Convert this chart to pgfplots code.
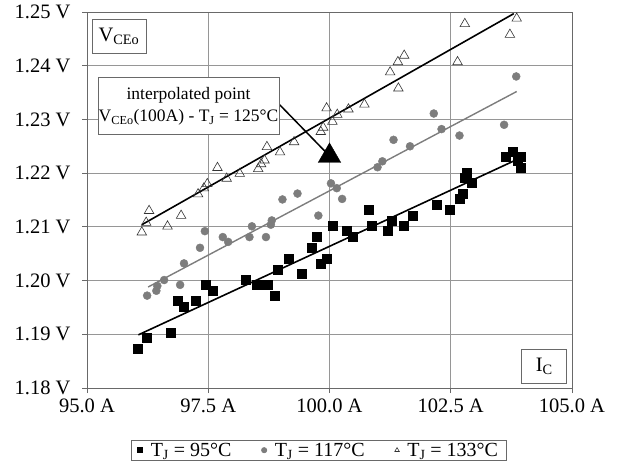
\documentclass[border=0pt]{standalone}
\usepackage{fontspec}
\setmainfont{Liberation Serif}
\usepackage{pgfplots}
\pgfplotsset{compat=1.18}

\definecolor{gridgray}{RGB}{150,150,150}
\definecolor{ptgray}{RGB}{125,125,125}
\definecolor{axisgray}{RGB}{105,105,105}
\newcommand{\lab}{\fontsize{20.5}{24}\selectfont}

\begin{document}
\begin{tikzpicture}
\begin{axis}[
  scale only axis,
  width=485pt, height=376pt,
  xmin=95, xmax=105, ymin=1.18, ymax=1.25,
  xtick={95,97.5,100,102.5,105},
  xticklabels={95.0 A,97.5 A,100.0 A,102.5 A,105.0 A},
  ytick={1.18,1.19,1.20,1.21,1.22,1.23,1.24,1.25},
  yticklabels={1.18 V,1.19 V,1.20 V,1.21 V,1.22 V,1.23 V,1.24 V,1.25 V},
  tick label style={font=\lab},
  yticklabel style={xshift=-8pt},
  xticklabel style={yshift=-2pt},
  tick align=outside, xtick pos=bottom, ytick pos=left,
  major tick length=5pt,
  tick style={axisgray, line width=0.8pt},
  grid=major, grid style={gridgray, line width=0.8pt},
  axis line style={axisgray, line width=0.9pt},
  clip=false,
  legend columns=3,
  legend style={at={(0.478,-0.138)}, anchor=north, draw=axisgray,
    line width=0.8pt, font=\fontsize{20}{20}\selectfont, inner ysep=0.5pt, inner xsep=6pt,
    /tikz/every odd column/.append style={column sep=6pt},
    /tikz/every even column/.append style={column sep=28pt}},
  legend image post style={mark size=2.6pt},
]
% T_J = 95 C
\addplot[only marks, mark=square*, mark size=4.5pt, black] coordinates {
  (96.04,1.1874)(96.24,1.1893)(96.73,1.1903)(96.86,1.1962)(97.00,1.1952)
  (97.25,1.1962)(97.45,1.1992)(97.60,1.1982)(98.27,1.2001)(98.50,1.1992)
  (98.60,1.1992)(98.73,1.1992)(98.88,1.1972)(98.94,1.2021)(99.15,1.2041)
  (99.43,1.2012)(99.63,1.2061)(99.74,1.2081)(99.82,1.2031)(99.94,1.2041)
  (100.07,1.2103)(100.35,1.2092)(100.48,1.2082)(100.81,1.2132)(100.88,1.2103)
  (101.21,1.2092)(101.28,1.2112)(101.54,1.2103)(101.71,1.2121)(102.22,1.2142)
  (102.47,1.2132)(102.68,1.2152)(102.75,1.2162)(102.78,1.2191)(102.82,1.2201)
  (102.93,1.2182)(103.64,1.2231)(103.78,1.2239)(103.87,1.2224)(103.94,1.2231)
  (103.94,1.2211)
};
\addlegendentry{T\textsubscript{J} = 95°C}
% T_J = 117 C
\addplot[only marks, mark=*, mark size=4pt, ptgray, mark options={draw=ptgray, fill=ptgray}] coordinates {
  (96.24,1.1972)(96.43,1.1981)(96.45,1.1990)(96.59,1.2001)(96.92,1.1992)
  (97.00,1.2032)(97.33,1.2061)(97.43,1.2092)(97.80,1.2081)(97.91,1.2072)
  (98.35,1.2081)(98.40,1.2101)(98.69,1.2081)(98.81,1.2112)(98.79,1.2104)
  (99.03,1.2151)(99.34,1.2162)(99.77,1.2121)(100.03,1.2181)(100.15,1.2172)
  (100.26,1.2152)(100.99,1.2211)(101.09,1.2222)(101.32,1.2262)(101.66,1.2250)
  (102.15,1.2311)(102.31,1.2282)(102.68,1.2270)(103.60,1.2290)(103.85,1.2380)
};
\addlegendentry{T\textsubscript{J} = 117°C}
% T_J = 133 C
\addplot[only marks, mark=triangle, mark size=5.5pt, black!80, mark options={line width=0.6pt}] coordinates {
  (96.13,1.2090)(96.22,1.2108)(96.28,1.2130)(96.66,1.2101)(96.94,1.2121)
  (97.29,1.2161)(97.41,1.2172)(97.48,1.2180)(97.69,1.2210)(97.88,1.2190)
  (98.15,1.2199)(98.53,1.2208)(98.59,1.2217)(98.66,1.2224)(98.71,1.2249)
  (98.98,1.2239)(99.27,1.2258)(99.82,1.2277)(99.87,1.2285)(100.06,1.2296)
  (99.94,1.2321)(100.16,1.2309)(100.39,1.2319)(100.72,1.2328)(101.25,1.2388)
  (101.41,1.2407)(101.42,1.2358)(101.54,1.2419)(102.64,1.2407)(102.79,1.2478)
  (103.72,1.2458)(103.86,1.2488)
};
\addlegendentry{T\textsubscript{J} = 133°C}
% trend lines
\addplot[black, line width=1.6pt, forget plot] coordinates {(96.06,1.1899)(103.88,1.2226)};
\addplot[ptgray, line width=1.4pt, forget plot] coordinates {(96.26,1.1988)(103.86,1.2352)};
\addplot[black, line width=1.6pt, forget plot] coordinates {(96.13,1.2104)(103.80,1.2497)};
% annotation
\draw[black, line width=1.5pt] (rel axis cs:0.396,0.755) -- (axis cs:100,1.2232);
\addplot[only marks, mark=triangle*, mark size=13pt, black, forget plot] coordinates {(100,1.2232)};
\node[draw=axisgray, fill=white, line width=1pt, minimum width=181pt, minimum height=57pt,
  align=center, inner sep=0pt, font=\fontsize{17.5}{22}\selectfont]
  at (rel axis cs:0.2093,0.7487)
  {interpolated point\\V\textsubscript{CEo}(100A) - T\textsubscript{J} = 125°C};
\node[draw=axisgray, fill=white, line width=1pt, minimum width=54pt, minimum height=34pt,
  inner sep=0pt, font=\lab] at (rel axis cs:0.066,0.936) {V\textsubscript{CEo}};
\node[draw=axisgray, fill=white, line width=1pt, minimum width=45pt, minimum height=34pt,
  inner sep=0pt, font=\lab] at (rel axis cs:0.943,0.0585) {I\textsubscript{C}};
\end{axis}
\pgfresetboundingbox
\path (-87pt,-75pt) rectangle (536pt,388pt);
\end{tikzpicture}
\end{document}
